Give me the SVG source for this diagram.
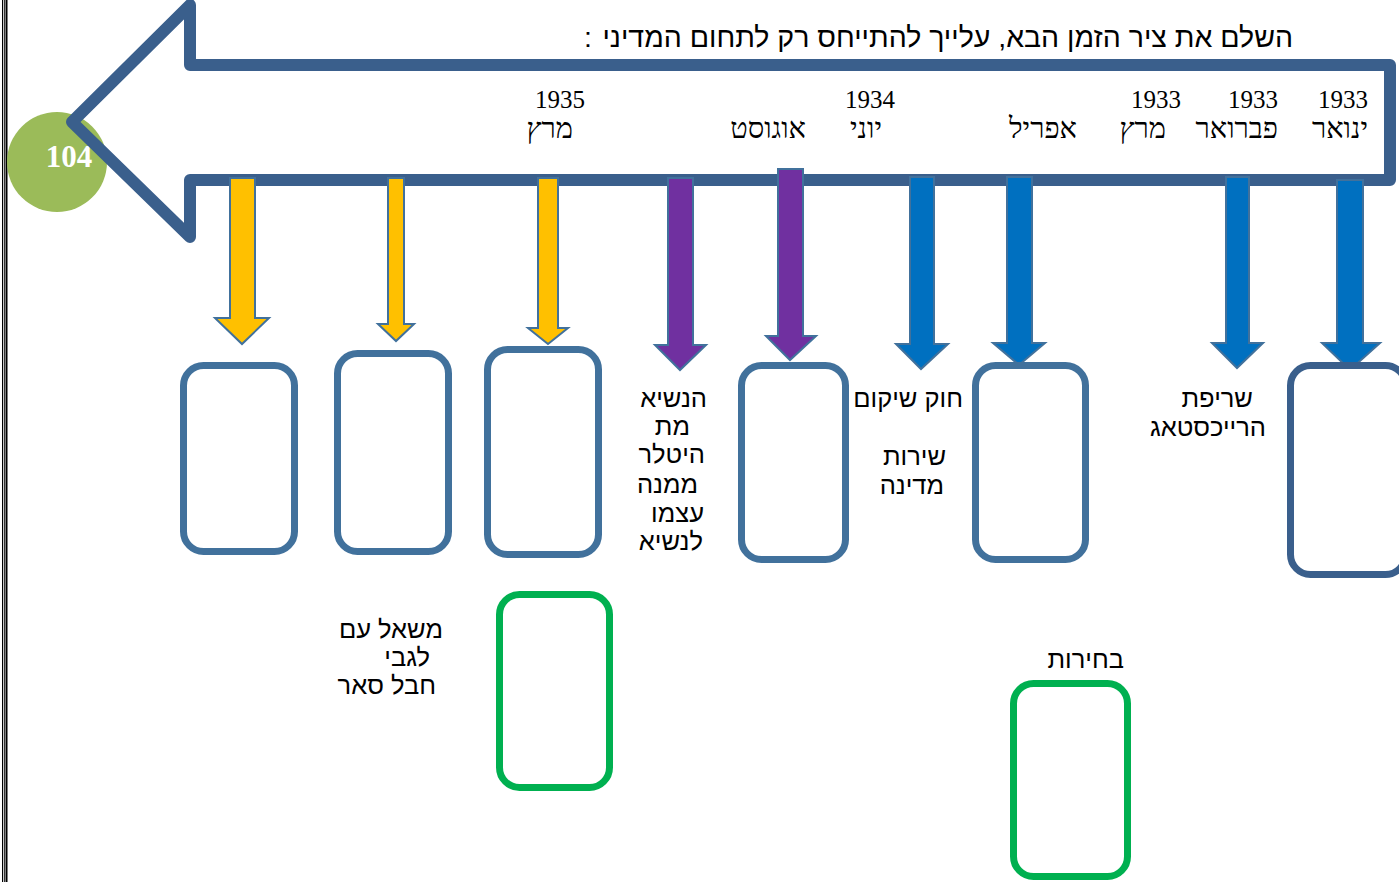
<svg xmlns="http://www.w3.org/2000/svg" width="1399" height="882" viewBox="0 0 1399 882">
<defs>
<style>
.heb{font-family:"Liberation Sans","DejaVu Sans",sans-serif;font-size:25.5px;fill:#000}
.ttl{font-family:"Liberation Sans","DejaVu Sans",sans-serif;font-size:28.5px;fill:#000}
.date{font-family:"Liberation Serif","DejaVu Serif",serif;font-size:25px;fill:#000}
.mon{font-family:"Liberation Serif","DejaVu Serif",serif;font-size:29px;fill:#000}
.box{fill:#fff;stroke:#41719C;stroke-width:7}
.boxd{fill:#fff;stroke:#3A5F8C;stroke-width:7}
.gbox{fill:#fff;stroke:#00B050;stroke-width:7}
.ay{fill:#FFC000;stroke:#41719C;stroke-width:2}
.ap{fill:#7030A0;stroke:#41719C;stroke-width:2}
.ab{fill:#0070C0;stroke:#41719C;stroke-width:2}
</style>
</defs>
<rect width="1399" height="882" fill="#fff"/>
<g id="border">
<line x1="2.5" y1="0" x2="2.5" y2="882" stroke="#000" stroke-width="1"/>
<line x1="4.3" y1="0" x2="4.3" y2="882" stroke="#000" stroke-width="1"/>
<line x1="6.5" y1="0" x2="6.5" y2="882" stroke="#000" stroke-width="2"/>
</g>
<g id="page-number">
<circle cx="57" cy="162" r="50" fill="#9BBB59"/>
<text x="69" y="167" text-anchor="middle" font-family="Liberation Serif,serif" font-weight="bold" font-size="31" fill="#fff">104</text>
</g>
<g id="timeline-arrow">
<path d="M190,65 L1390,65 L1390,180 L190,180 L190,237 L72,122 L190,5 Z" fill="none" stroke="#3A5F8C" stroke-width="12" stroke-linejoin="round"/>
</g>
<g id="title">
<text class="ttl" x="1293" y="47" text-anchor="end">השלם את ציר הזמן הבא, עלייך להתייחס רק לתחום המדיני</text>
<text class="ttl" x="584" y="47" font-size="17">:</text>
</g>
<g id="dates">
<text class="date" x="1368" y="108" text-anchor="end">1933</text>
<text class="mon" x="1368" y="138" text-anchor="end">ינואר</text>
<text class="date" x="1278" y="108" text-anchor="end">1933</text>
<text class="mon" x="1278" y="138" text-anchor="end">פברואר</text>
<text class="date" x="1181" y="108" text-anchor="end">1933</text>
<text class="mon" x="1166" y="138" text-anchor="end">מרץ</text>
<text class="mon" x="1077" y="138" text-anchor="end">אפריל</text>
<text class="date" x="895" y="108" text-anchor="end">1934</text>
<text class="mon" x="882" y="138" text-anchor="end">יוני</text>
<text class="mon" x="806" y="138" text-anchor="end">אוגוסט</text>
<text class="date" x="585" y="108" text-anchor="end">1935</text>
<text class="mon" x="573" y="138" text-anchor="end">מרץ</text>
</g>
<g id="connectors">
<polygon class="ay" points="230,178 255,178 255,318 269,318 242,344 215,318 230,318"/>
<polygon class="ay" points="388,178 404,178 404,324 414,324 396,341 378,324 388,324"/>
<polygon class="ay" points="538,178 558,178 558,328 568,328 548,344 528,328 538,328"/>
<polygon class="ap" points="668,178 693,178 693,345 706,345 680,370 655,345 668,345"/>
<polygon class="ap" points="778,169 803,169 803,336 816,336 790,360 766,336 778,336"/>
<polygon class="ab" points="910,177 934,177 934,344 948,344 921,369 896,344 910,344"/>
<polygon class="ab" points="1007,177 1032,177 1032,343 1045,343 1019,365 993,343 1007,343"/>
<polygon class="ab" points="1226,177 1249,177 1249,343 1263,343 1237,368 1212,343 1226,343"/>
<polygon class="ab" points="1337,180 1363,180 1363,343 1380,343 1350,370 1322,343 1337,343" stroke="#3A5F8C" stroke-width="3"/>
</g>
<g id="labels">
<text class="heb" x="707" y="407" text-anchor="end">הנשיא</text>
<text class="heb" x="690" y="435" text-anchor="end">מת</text>
<text class="heb" x="705" y="463" text-anchor="end">היטלר</text>
<text class="heb" x="698" y="493" text-anchor="end">ממנה</text>
<text class="heb" x="704" y="522" text-anchor="end">עצמו</text>
<text class="heb" x="703" y="550" text-anchor="end">לנשיא</text>
<text class="heb" x="963" y="407" text-anchor="end">חוק שיקום</text>
<text class="heb" x="946" y="465" text-anchor="end">שירות</text>
<text class="heb" x="944" y="494" text-anchor="end">מדינה</text>
<text class="heb" x="1253" y="407" text-anchor="end">שריפת</text>
<text class="heb" x="1266" y="436" text-anchor="end">הרייכסטאג</text>
<text class="heb" x="443" y="638" text-anchor="end">משאל עם</text>
<text class="heb" x="430" y="666" text-anchor="end">לגבי</text>
<text class="heb" x="436" y="694" text-anchor="end">חבל סאר</text>
<text class="heb" x="1124" y="668" text-anchor="end">בחירות</text>
</g>
<g id="box-a"><rect class="box" x="183.5" y="365.5" width="111" height="186" rx="20"/></g>
<g id="box-b"><rect class="box" x="337.5" y="353.5" width="111" height="198" rx="20"/></g>
<g id="box-c"><rect class="box" x="487.5" y="349.5" width="111" height="205" rx="20"/></g>
<g id="box-d"><rect class="box" x="741.5" y="365.5" width="104" height="194" rx="20"/></g>
<g id="box-e"><rect class="box" x="975.5" y="365.5" width="110" height="194" rx="20"/></g>
<g id="box-f"><rect class="boxd" x="1290.5" y="365.5" width="115" height="209" rx="20"/></g>
<g id="box-g1"><rect class="gbox" x="499.5" y="594.5" width="110" height="193" rx="20"/></g>
<g id="box-g2"><rect class="gbox" x="1013.5" y="683.5" width="114" height="193" rx="20"/></g>
</svg>
